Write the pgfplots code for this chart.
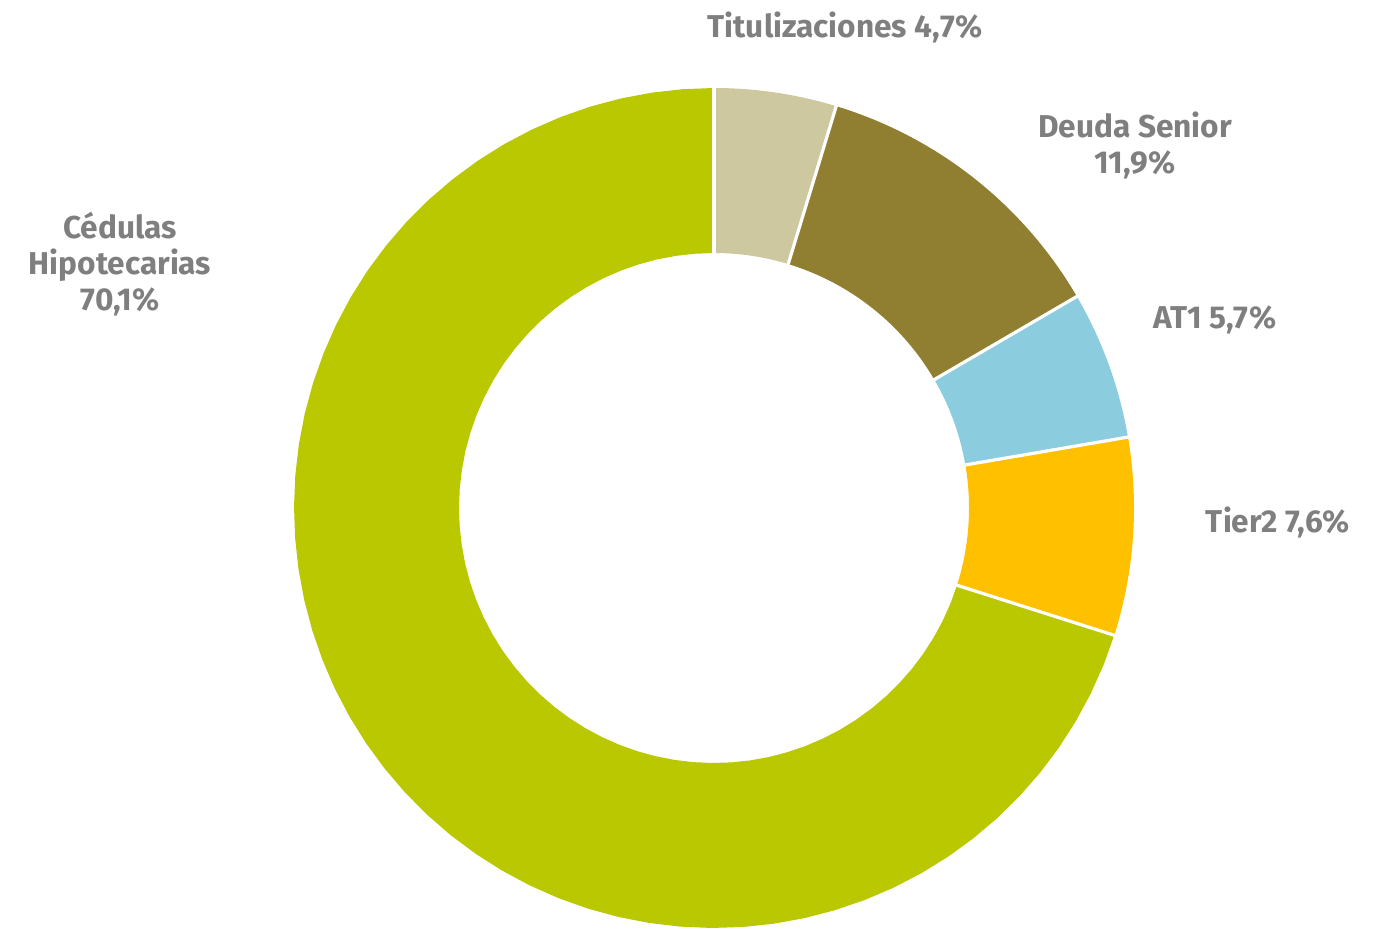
\documentclass[border=0pt]{standalone}
\usepackage{pgfplots}
\pgfplotsset{compat=1.18}
\usepgfplotslibrary{fillbetween}
\usepackage{fontspec}
\setmainfont{Fira Sans}
\definecolor{cTit}{HTML}{CDC8A0}
\definecolor{cDeu}{HTML}{917F31}
\definecolor{cAT}{HTML}{8BCDDF}
\definecolor{cTier}{HTML}{FFC000}
\definecolor{cCed}{HTML}{B9C800}
\definecolor{lbl}{HTML}{7F7F7F}
% data (percent)
\def\pTit{4.7}
\def\pDeu{11.9}
\def\pAT{5.7}
\def\pTier{7.6}
\def\pCed{70.1}
\newcommand\slice[4]{% color, start angle, end angle, name
  \addplot[draw=none,name path=o#4,domain=#3:#2,samples=60] ({714+420*cos(x)},{420+420*sin(x)});
  \addplot[draw=none,name path=i#4,domain=#3:#2,samples=60] ({714+255*cos(x)},{420+255*sin(x)});
  \addplot[fill=#1,draw=none] fill between[of=o#4 and i#4];
}
\newcommand\sep[1]{%
  \addplot[white,line width=1.6pt,domain=250:425,samples=2] ({714+x*cos(#1)},{420+x*sin(#1)});
}
\begin{document}
\begin{tikzpicture}
\pgfmathsetmacro{\aA}{90}
\pgfmathsetmacro{\aB}{\aA-\pTit*3.6}
\pgfmathsetmacro{\aC}{\aB-\pDeu*3.6}
\pgfmathsetmacro{\aD}{\aC-\pAT*3.6}
\pgfmathsetmacro{\aE}{\aD-\pTier*3.6}
\pgfmathsetmacro{\aF}{\aE-\pCed*3.6}
\begin{axis}[width=698.5pt,height=464pt,scale only axis,
  xmin=0,xmax=1397,ymin=0,ymax=928,hide axis,clip=false]
\path (axis cs:0,0) rectangle (axis cs:1397,928);
\slice{cTit}{\aA}{\aB}{a}
\slice{cDeu}{\aB}{\aC}{b}
\slice{cAT}{\aC}{\aD}{c}
\slice{cTier}{\aD}{\aE}{d}
\slice{cCed}{\aE}{\aF}{e}
\sep{\aA}
\sep{\aB}
\sep{\aC}
\sep{\aD}
\sep{\aE}
\begin{scope}[every node/.style={font=\fontsize{15.8}{18}\selectfont\bfseries,text=lbl,anchor=base,inner sep=0pt}]
\node at (axis cs:845,890) {Titulizaciones 4,7\%};
\node at (axis cs:1135,790) {Deuda Senior};
\node at (axis cs:1135,754) {11,9\%};
\node at (axis cs:1215,599) {AT1 5,7\%};
\node at (axis cs:1278,395) {Tier2 7,6\%};
\node at (axis cs:120,689) {Cédulas};
\node at (axis cs:120,653) {Hipotecarias};
\node at (axis cs:120,617) {70,1\%};
\end{scope}
\end{axis}
\end{tikzpicture}
\end{document}
